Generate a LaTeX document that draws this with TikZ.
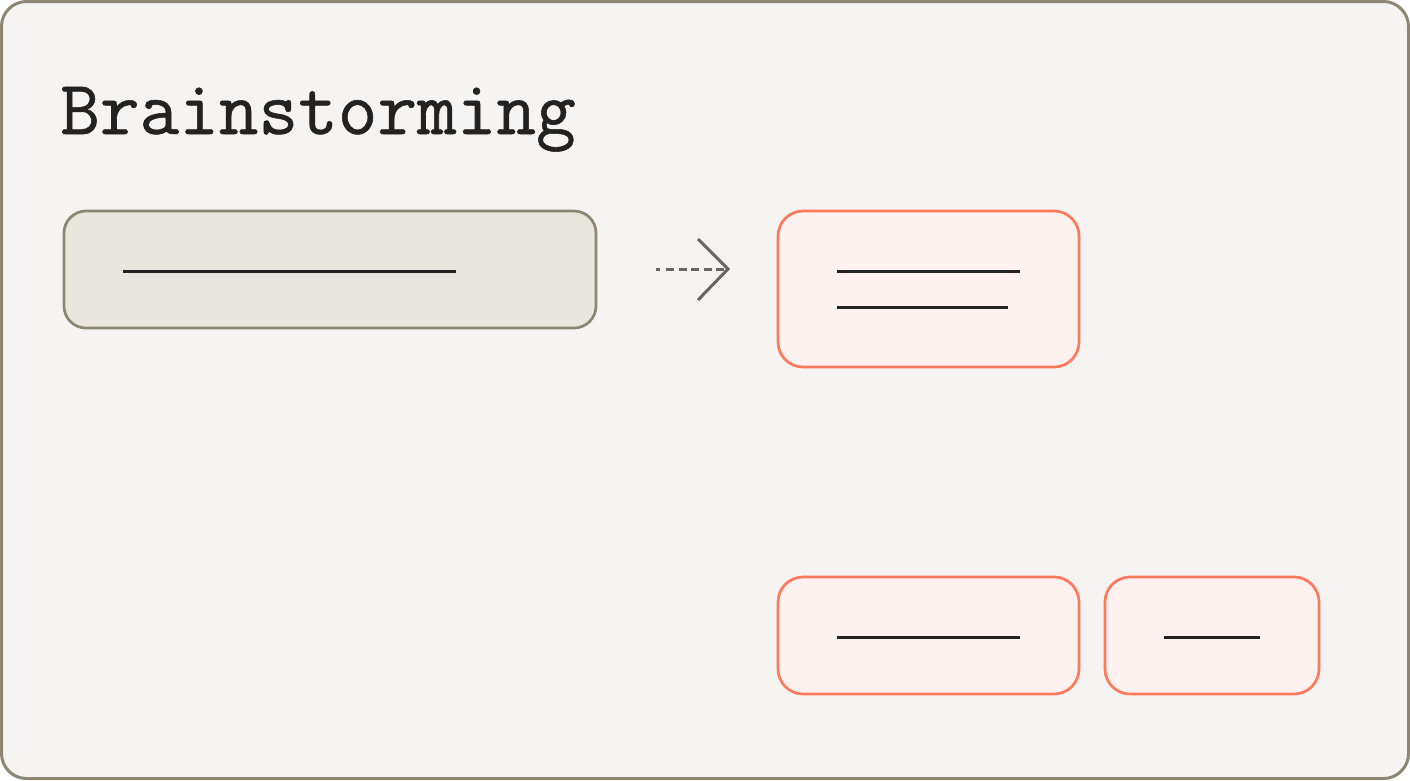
\documentclass[tikz,border=0pt]{standalone}
\usepackage{fontspec}
\newfontfamily\titlefont[FakeBold=0.7]{Latin Modern Mono}
\begin{document}
\begin{tikzpicture}[x=1pt,y=-1pt,
  frame/.style={draw=framec,fill=bgc,line width=3pt,rounded corners=25pt},
  greybox/.style={draw=framec,fill=greyfill,line width=2.7pt,rounded corners=22pt,inner sep=0pt},
  pinkbox/.style={draw=coral,fill=pinkfill,line width=2.7pt,rounded corners=25pt,inner sep=0pt},
  textline/.style={draw=inkc,line width=3pt},
  arrowline/.style={draw=arrowc,line width=3pt}]
\definecolor{framec}{HTML}{8D8674}
\definecolor{bgc}{HTML}{F5F4F2}
\definecolor{greyfill}{HTML}{E8E6DF}
\definecolor{coral}{HTML}{FF7A5C}
\definecolor{pinkfill}{HTML}{FDF2F0}
\definecolor{inkc}{HTML}{222222}
\definecolor{arrowc}{HTML}{666666}
\useasboundingbox (0,0) rectangle (1410,780);
\draw[frame] (1.5,1.5) rectangle (1408.5,778.5);
\node[anchor=base west,inner sep=0pt,text=inkc,font=\fontsize{77}{80}\selectfont\titlefont] (title) at (60,134) {Brainstorming};
\node[greybox,minimum width=532pt,minimum height=117pt] (g) at (330,269.5) {};
\node[pinkbox,minimum width=301pt,minimum height=156pt] (p1) at (928.5,289) {};
\node[pinkbox,minimum width=301pt,minimum height=117pt] (p2) at (928.5,635.5) {};
\node[pinkbox,minimum width=214pt,minimum height=117pt] (p3) at (1212,635.5) {};
\draw[textline] (123,271) -- (456,271);
\draw[textline] (837,271) -- (1020,271);
\draw[textline] (837,307) -- (1008,307);
\draw[textline] (837,637) -- (1020,637);
\draw[textline] (1164,637) -- (1260,637);
\coordinate (a0) at (656,269);
\coordinate (a1) at (728,269);
\draw[arrowline,dash pattern=on 4pt off 6pt on 8pt off 4.5pt on 8pt off 4.5pt on 8pt off 4.5pt on 8pt off 4.5pt on 8pt off 40pt] (a0) -- (a1);
\draw[arrowline,line join=miter] (698,239) -- (a1) -- (698,300);
\end{tikzpicture}
\end{document}
